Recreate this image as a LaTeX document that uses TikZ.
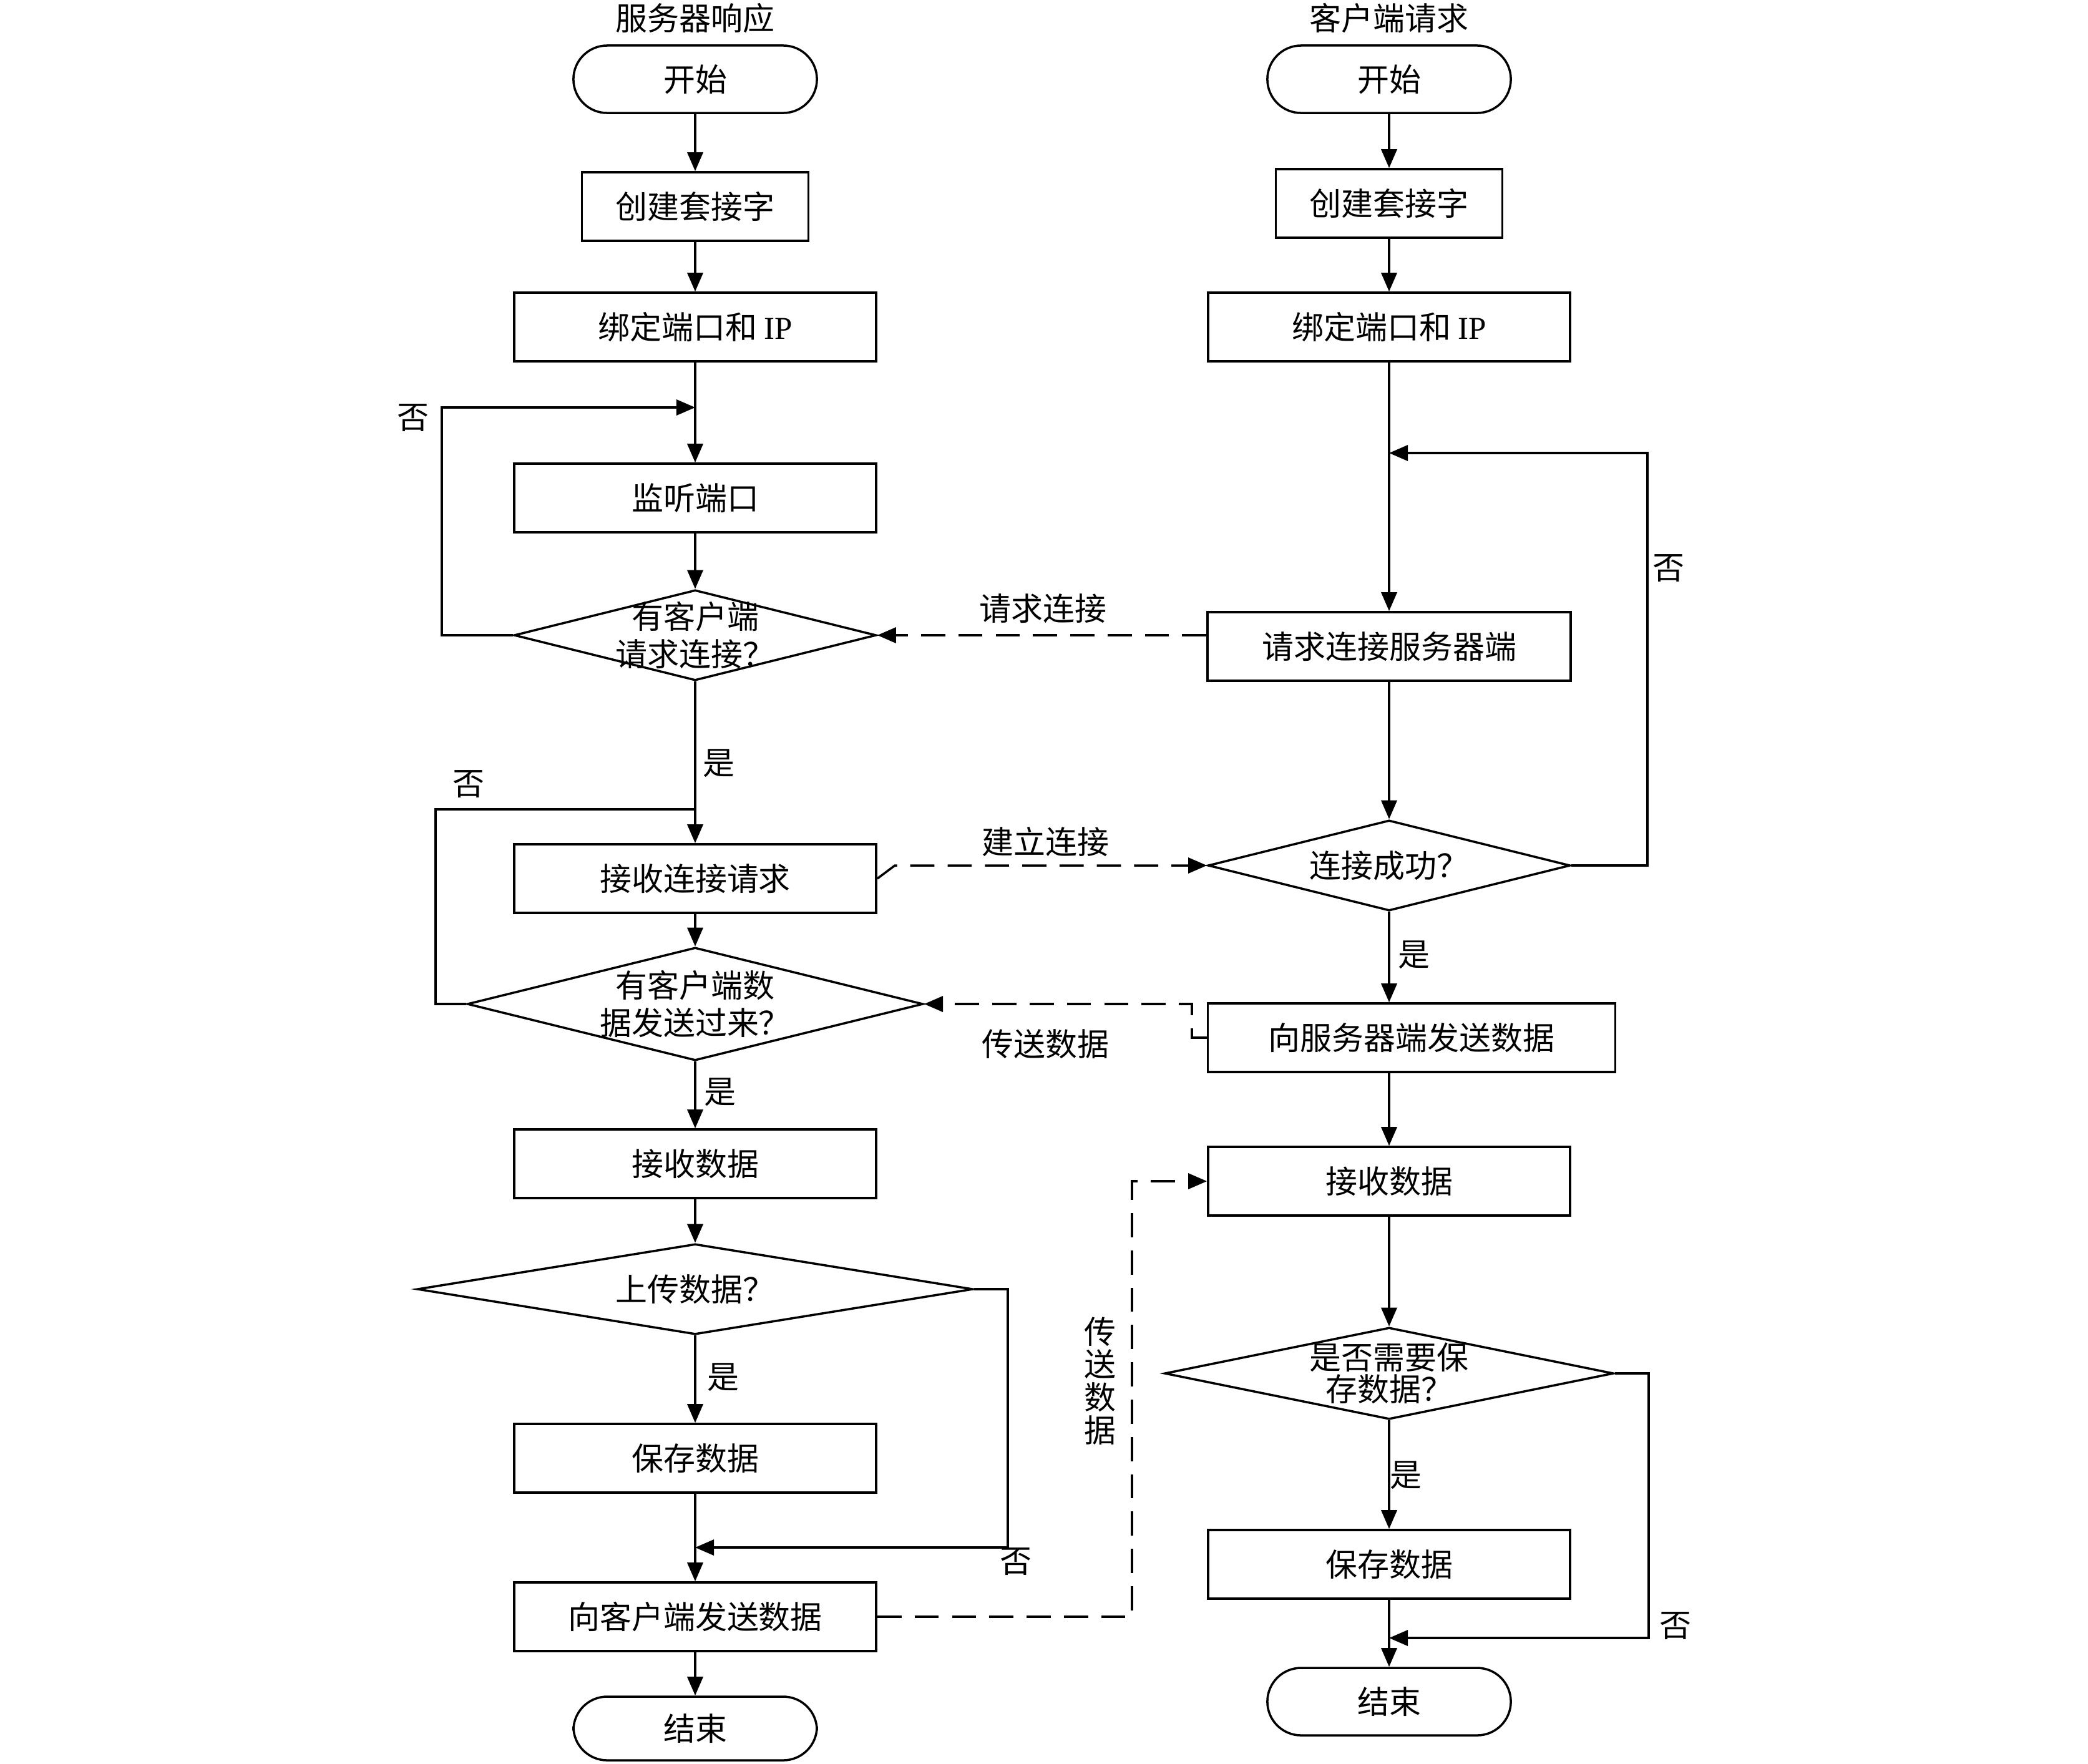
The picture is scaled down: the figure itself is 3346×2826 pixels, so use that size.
\documentclass[tikz,border=0pt]{standalone}
\usepackage{fontspec}
\newfontfamily\cjk{Noto Sans CJK SC}
\newfontfamily\lser{Liberation Serif}
\usetikzlibrary{arrows.meta,shapes.geometric}
\begin{document}
\begin{tikzpicture}[x=0.01cm,y=-0.01cm,
  font=\cjk\fontsize{14.5pt}{17pt}\selectfont,
  line width=1pt,
  proc/.style={draw,rectangle,minimum height=1.1cm,inner sep=0pt},
  term/.style={draw,rectangle,rounded corners=0.54cm,minimum width=3.9cm,minimum height=1.08cm,inner sep=0pt},
  dec/.style={draw,diamond,inner sep=0pt},
  arr/.style={-{Triangle[length=0.3cm,width=0.25cm]}},
  dsh/.style={dash pattern=on 11pt off 6pt},
  lbl/.style={inner sep=0pt}
]
\path[use as bounding box] (0,0) rectangle (3346,2826);

% ---------- titles ----------
\node[lbl] (t1) at (1114,29) {服务器响应};
\node[lbl] (t2) at (2226,29) {客户端请求};

% ---------- server column ----------
\node[term] (s1) at (1114,127) {开始};
\node[proc,minimum width=3.63cm] (c1) at (1114,331) {创建套接字};
\node[proc,minimum width=5.8cm] (b1) at (1114,524) {绑定端口和 {\lser IP}};
\node[proc,minimum width=5.8cm] (l1) at (1114,798) {监听端口};
\node[dec,minimum width=5.8cm,minimum height=1.45cm,
  label={[align=center,lbl]center:有客户端\\请求连接？}] (d1) at (1114,1018) {};
\node[proc,minimum width=5.8cm] (acc) at (1114,1408) {接收连接请求};
\node[dec,minimum width=7.3cm,minimum height=1.81cm,
  label={[align=center,lbl]center:有客户端数\\据发送过来？}] (d2) at (1114,1609) {};
\node[proc,minimum width=5.8cm] (r1) at (1114,1865) {接收数据};
\node[dec,minimum width=8.9cm,minimum height=1.45cm,
  label={[lbl]center:上传数据？}] (d3) at (1114,2066) {};
\node[proc,minimum width=5.8cm] (sv1) at (1114,2337) {保存数据};
\node[proc,minimum width=5.8cm] (snd) at (1114,2591) {向客户端发送数据};
\node[term,minimum height=1.02cm] (e1) at (1114,2770) {结束};

% ---------- client column ----------
\node[term] (s2) at (2226,127) {开始};
\node[proc,minimum width=3.63cm] (c2) at (2226,326) {创建套接字};
\node[proc,minimum width=5.8cm] (b2) at (2226,524) {绑定端口和 {\lser IP}};
\node[proc,minimum width=5.82cm] (rq) at (2226,1036) {请求连接服务器端};
\node[dec,minimum width=5.8cm,minimum height=1.45cm,
  label={[lbl]center:连接成功？}] (d4) at (2226,1387) {};
\node[proc,minimum width=6.53cm] (ss) at (2262,1663) {向服务器端发送数据};
\node[proc,minimum width=5.8cm] (r2) at (2226,1893) {接收数据};
\node[dec,minimum width=7.19cm,minimum height=1.47cm,
  label={[align=center,lbl,font=\cjk\fontsize{14.5pt}{14.5pt}\selectfont]center:是否需要保\\存数据？}] (d5) at (2226,2201) {};
\node[proc,minimum width=5.8cm] (sv2) at (2226,2507) {保存数据};
\node[term] (e2) at (2226,2727) {结束};

% ---------- helper coordinates ----------
\coordinate (k1) at (708,1018);
\coordinate (k2) at (708,653);
\coordinate (j1) at (1114,653);
\coordinate (k3) at (698,1609);
\coordinate (k4) at (698,1297);
\coordinate (j2) at (1114,1297);
\coordinate (k5) at (1615,2066);
\coordinate (k6) at (1615,2480);
\coordinate (j3) at (1114,2480);
\coordinate (k7) at (2640,1387);
\coordinate (k8) at (2640,726);
\coordinate (j4) at (2226,726);
\coordinate (k9) at (2642,2201);
\coordinate (k10) at (2642,2625);
\coordinate (j5) at (2226,2625);
\coordinate (k11) at (1434,1387);
\coordinate (k12) at (1910,1663);
\coordinate (k13) at (1910,1609);
\coordinate (k14) at (1814,2591);
\coordinate (k15) at (1814,1893);

% ---------- server connectors ----------
\draw[arr] (s1) -- (c1);
\draw[arr] (c1) -- (b1);
\draw[arr] (b1) -- (l1);
\draw[arr] (l1) -- (d1);
\draw[arr] (d1.west) -- (k1) -- (k2) -- (j1);
\draw[arr] (d1) -- (acc);
\draw (d2.west) -- (k3) -- (k4) -- (j2);
\draw[arr] (acc) -- (d2);
\draw[arr] (d2) -- (r1);
\draw[arr] (r1) -- (d3);
\draw[arr] (d3) -- (sv1);
\draw[arr] (sv1) -- (snd);
\draw[arr] (d3.east) -- (k5) -- (k6) -- (j3);
\draw[arr] (snd) -- (e1);

% ---------- client connectors ----------
\draw[arr] (s2) -- (c2);
\draw[arr] (c2) -- (b2);
\draw[arr] (b2) -- (rq);
\draw[arr] (rq) -- (d4);
\draw[arr] (d4.east) -- (k7) -- (k8) -- (j4);
\draw[arr] (d4.south) -- (d4.south |- ss.north);
\draw[arr] (ss.south -| r2.north) -- (r2.north);
\draw[arr] (r2) -- (d5);
\draw[arr] (d5) -- (sv2);
\draw[arr] (sv2) -- (e2);
\draw[arr] (d5.east) -- (k9) -- (k10) -- (j5);

% ---------- dashed exchanges ----------
\draw[dsh,arr] (rq.west |- d1.east) -- (d1.east);
\draw[dsh,arr] (acc.east) -- (k11) -- (d4.west);
\draw[dsh,arr] (ss.west) -- (k12) -- (k13) -- (d2.east);
\draw[dsh,arr] (snd.east) -- (k14) -- (k15) -- (r2.west);

% ---------- labels ----------
\node[lbl] (n1) at (662,670) {否};
\node[lbl] (y1) at (1152,1223) {是};
\node[lbl] (n2) at (751,1257) {否};
\node[lbl] (y2) at (1154,1750) {是};
\node[lbl] (y3) at (1159,2207) {是};
\node[lbl] (n3) at (1628,2503) {否};
\node[lbl] (n4) at (2674,911) {否};
\node[lbl] (y4) at (2266,1530) {是};
\node[lbl] (y5) at (2253,2364) {是};
\node[lbl] (n5) at (2685,2606) {否};
\node[lbl] (m1) at (1671,975) {请求连接};
\node[lbl] (m2) at (1675,1349) {建立连接};
\node[lbl] (m3) at (1675,1673) {传送数据};
\node[lbl,align=center,font=\cjk\fontsize{14.5pt}{15pt}\selectfont] (m4) at (1763,2213) {传\\送\\数\\据};
\end{tikzpicture}
\end{document}
